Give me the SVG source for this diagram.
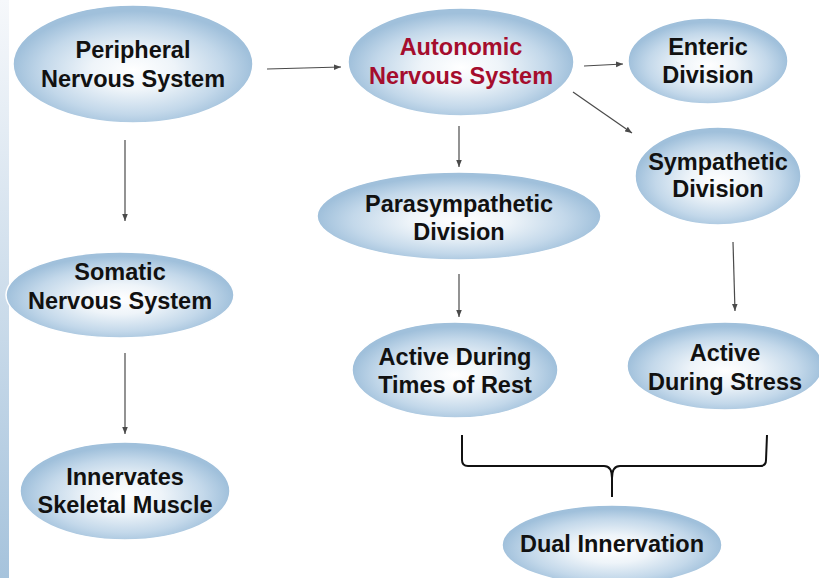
<svg xmlns="http://www.w3.org/2000/svg" width="819" height="578" viewBox="0 0 819 578">
<defs>
<radialGradient id="blob" cx="0.5" cy="0.55" r="0.5">
<stop offset="0" stop-color="#ffffff"/>
<stop offset="0.35" stop-color="#eef4f9"/>
<stop offset="0.75" stop-color="#c3d8ea"/>
<stop offset="1" stop-color="#a0c0db"/>
</radialGradient>
<linearGradient id="strip" x1="0" y1="0" x2="0" y2="1">
<stop offset="0" stop-color="#f6f8fb"/>
<stop offset="1" stop-color="#a6c3dc"/>
</linearGradient>
<marker id="ah" viewBox="0 0 10 10" refX="10" refY="5" markerWidth="7" markerHeight="7" markerUnits="userSpaceOnUse" orient="auto">
<path d="M0,1 L10,5 L0,9 Z" fill="#4a4a4a"/>
</marker>
</defs>
<style>
.n ellipse{fill:url(#blob);stroke:#ffffff;stroke-width:1.5}
.n text{font-family:"Liberation Sans",Arial,sans-serif;font-weight:bold;font-size:23.5px;fill:#111111;text-anchor:middle}
.n text.red{fill:#a50d2d}
.c line{stroke:#4a4a4a;stroke-width:1.2;marker-end:url(#ah)}
.brace{fill:none;stroke:#111111;stroke-width:2}
</style>
<rect x="0" y="0" width="819" height="578" fill="#ffffff"/>
<rect x="0" y="0" width="9" height="578" fill="url(#strip)"/>

<g id="peripheral" class="n">
<ellipse cx="133" cy="64" rx="120" ry="59"/>
<text x="133" y="58">Peripheral</text>
<text x="133" y="87">Nervous System</text>
</g>
<g id="autonomic" class="n">
<ellipse cx="461" cy="62" rx="113" ry="54"/>
<text class="red" x="461" y="55">Autonomic</text>
<text class="red" x="461" y="84">Nervous System</text>
</g>
<g id="enteric" class="n">
<ellipse cx="708" cy="61" rx="80" ry="43"/>
<text x="708" y="55">Enteric</text>
<text x="708" y="83">Division</text>
</g>
<g id="sympathetic" class="n">
<ellipse cx="718" cy="176" rx="83" ry="49"/>
<text x="718" y="170">Sympathetic</text>
<text x="718" y="197">Division</text>
</g>
<g id="parasympathetic" class="n">
<ellipse cx="459" cy="216" rx="142" ry="44"/>
<text x="459" y="212">Parasympathetic</text>
<text x="459" y="240">Division</text>
</g>
<g id="somatic" class="n">
<ellipse cx="120" cy="295" rx="114" ry="43"/>
<text x="120" y="280">Somatic</text>
<text x="120" y="309">Nervous System</text>
</g>
<g id="rest" class="n">
<ellipse cx="455" cy="370" rx="103" ry="48"/>
<text x="455" y="365">Active During</text>
<text x="455" y="393">Times of Rest</text>
</g>
<g id="stress" class="n">
<ellipse cx="725" cy="366" rx="98" ry="44"/>
<text x="725" y="361">Active</text>
<text x="725" y="390">During Stress</text>
</g>
<g id="innervates" class="n">
<ellipse cx="125" cy="491" rx="105" ry="49"/>
<text x="125" y="485">Innervates</text>
<text x="125" y="513">Skeletal Muscle</text>
</g>
<g id="dual" class="n">
<ellipse cx="612" cy="545" rx="110" ry="40"/>
<text x="612" y="552">Dual Innervation</text>
</g>

<g id="connectors" class="c">
<line x1="267" y1="69" x2="341" y2="67"/>
<line x1="584" y1="66" x2="623" y2="64"/>
<line x1="573" y1="92" x2="632" y2="133"/>
<line x1="459" y1="126" x2="459" y2="167"/>
<line x1="125" y1="140" x2="125" y2="221"/>
<line x1="125" y1="353" x2="125" y2="434"/>
<line x1="459" y1="274" x2="459" y2="317"/>
<line x1="733" y1="242" x2="735" y2="311"/>
<path class="brace" d="M462,435 L462,460 Q462,466 468,466 L604,466 Q612,466 612,478 L612,497 M612,478 Q612,466 620,466 L760,466 Q766,466 766,460 L767,435"/>
</g>
</svg>
